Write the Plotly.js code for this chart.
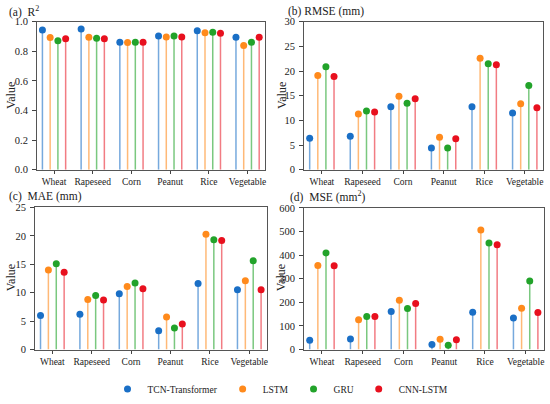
<!DOCTYPE html>
<html><head><meta charset="utf-8">
<script src="https://cdn.plot.ly/plotly-3.0.1.min.js"></script>
<style>html,body{margin:0;padding:0;background:#fff}#chart{width:550px;height:404px}</style>
</head><body><div id="chart"></div>
<script>
const categories = ['Wheat','Rapeseed','Corn','Peanut','Rice','Vegetable'];
const models = ['TCN-Transformer','LSTM','GRU','CNN-LSTM'];
// rows: TCN-Transformer, LSTM, GRU, CNN-LSTM
const r2Values = [
  [0.944,0.951,0.862,0.904,0.940,0.895],
  [0.893,0.895,0.860,0.898,0.926,0.840],
  [0.871,0.889,0.862,0.904,0.929,0.862],
  [0.886,0.886,0.862,0.898,0.922,0.895]
];
const rmseValues = [
  [6.4,6.8,12.8,4.4,12.8,11.5],
  [19.1,11.3,14.9,6.6,22.6,13.4],
  [20.9,11.9,13.5,4.4,21.5,17.1],
  [18.9,11.7,14.4,6.3,21.3,12.6]
];
const maeValues = [
  [6.0,6.2,9.8,3.3,11.6,10.5],
  [14.0,8.8,11.1,5.7,20.3,12.1],
  [15.1,9.5,11.7,3.8,19.3,15.6],
  [13.6,8.7,10.7,4.5,19.2,10.5]
];
const mseValues = [
  [39,45,161,21,158,133],
  [356,126,209,43,506,175],
  [409,140,174,18,451,290],
  [355,140,195,41,444,157]
];
const markerColors = ['#1a6fc6','#ff8a1c','#22a32a','#e8101e'];
const stemColors = ['rgba(26,111,198,0.6)','rgba(255,138,28,0.6)','rgba(34,163,42,0.6)','rgba(232,16,30,0.55)'];
const offsets = [-0.3,-0.1,0.1,0.3];

const panels = [
  {vals:r2Values, xa:'x', ya:'y'},
  {vals:rmseValues, xa:'x2', ya:'y2'},
  {vals:maeValues, xa:'x3', ya:'y3'},
  {vals:mseValues, xa:'x4', ya:'y4'}
];
const traces = [];
panels.forEach((p,pi)=>{
  models.forEach((m,mi)=>{
    const ys = p.vals[mi];
    traces.push({
      type:'scatter', mode:'markers',
      x: categories.map((c,ci)=>ci+offsets[mi]),
      y: ys,
      xaxis:p.xa, yaxis:p.ya,
      name:m, legendgroup:m, showlegend: pi===0,
      marker:{color:markerColors[mi], size:7},
      error_y:{type:'data', symmetric:false, array:ys.map(()=>0), arrayminus:ys, color:stemColors[mi], thickness:1.5, width:0},
      cliponaxis:false,
      hoverinfo:'skip'
    });
  });
});

const W=550,H=404;
function dx(a,b){return [a/W,b/W];}
function dy(top,bot){return [(H-bot)/H,(H-top)/H];}
const FAM = 'Liberation Serif';
const font = {family:FAM, color:'#222', size:11};
function xax(dom){
  return {domain:dom, range:[-0.44,5.45], tickmode:'array', tickvals:[0,1,2,3,4,5], ticktext:categories,
    ticks:'outside', ticklen:3, tickcolor:'#444', showline:true, mirror:true, linecolor:'#555', linewidth:1,
    showgrid:false, zeroline:false, tickfont:{family:FAM, color:'#222', size:9.5}, fixedrange:true};
}
function yax(dom,range,dtick,fmt){
  return {domain:dom, range:range, tickmode:'linear', dtick:dtick, tick0:0, tickformat:fmt, ticks:'outside', ticklen:4, tickcolor:'#444',
    ticklabelstandoff:2,
    showline:true, mirror:true, linecolor:'#555', linewidth:1, showgrid:false, zeroline:false,
    tickfont:{family:FAM, color:'#222', size:10.5}, fixedrange:true};
}
function ann(text,x,y,size,angle){
  return {text:text, x:x/W, y:(H-y)/H, xref:'paper', yref:'paper', xanchor: angle?'center':'left', yanchor:'middle',
    textangle:angle||0, showarrow:false, font:{family:FAM, color:'#222', size:size}};
}
const layout = {
  width:W, height:H, margin:{l:0,r:0,t:0,b:0}, paper_bgcolor:'#fff', plot_bgcolor:'#fff',
  font:font, showlegend:true,
  xaxis: {...xax(dx(37,265)), anchor:'y'},
  yaxis: {...yax(dy(22,171.5),[0,1.0],0.2,'.1f'), anchor:'x'},
  xaxis2:{...xax(dx(304,543)), anchor:'y2'},
  yaxis2:{...yax(dy(22,171.5),[0,30],5,'d'), anchor:'x2'},
  xaxis3:{...xax(dx(35,267)), anchor:'y3'},
  yaxis3:{...yax(dy(209.5,353),[0,25],5,'d'), anchor:'x3'},
  xaxis4:{...xax(dx(304,544)), anchor:'y4'},
  yaxis4:{...yax(dy(210,353),[0,600],100,'d'), anchor:'x4'},
  legend:{orientation:'h', x:0.51, xanchor:'center', y:(H-393)/H, yanchor:'middle', font:{family:FAM, color:'#222', size:9.5}, itemwidth:30, bgcolor:'rgba(0,0,0,0)'},
  annotations:[
    ann('(a)  R<sup>2</sup>', 7, 12, 11.5),
    ann('(b) RMSE (mm)', 286, 12, 11.5),
    ann('(c)  MAE (mm)', 7, 198.5, 11.5),
    ann('(d)  MSE (mm<sup>2</sup>)', 288, 198.5, 11.5),
    ann('Value', 11, 97, 12, -90),
    ann('Value', 282, 97, 12, -90),
    ann('Value', 11, 281, 12, -90),
    ann('Value', 281, 281, 12, -90)
  ]
};
Plotly.newPlot('chart', traces, layout, {displayModeBar:false, staticPlot:true});
</script></body></html>
